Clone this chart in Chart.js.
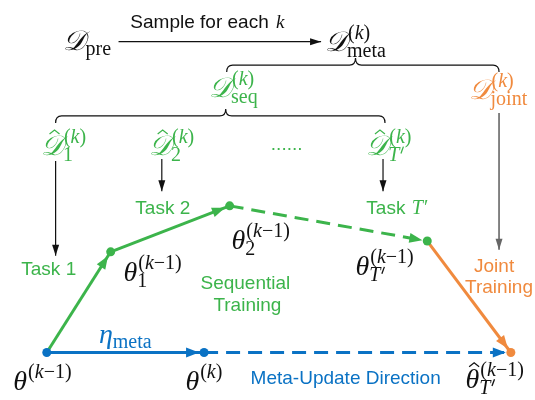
<!DOCTYPE html>
<html>
<head>
<meta charset="utf-8">
<script src="https://cdn.jsdelivr.net/npm/chart.js@4.4.1/dist/chart.umd.min.js"></script>
<style>
  html, body { margin: 0; padding: 0; background: #fff; }
  #wrap { width: 535px; height: 400px; }
</style>
</head>
<body>
<div id="wrap"><canvas id="chart" width="535" height="400"></canvas></div>
<script>
const GREEN = '#3cb44b';
const BLUE = '#0a72c4';
const ORANGE = '#f08a3e';
const BLACK = '#111';
const GRAY = '#666';

// parameter points of the diagram (x, y in diagram units, y down)
const nodeNames = ['theta0', 'theta1', 'theta2', 'thetaT', 'thetaK', 'thetaHat'];
const nodeX = [43, 108, 229, 430, 203, 515];
const nodeY = [356, 253, 206, 242, 356, 356];
const nodeColors = [BLUE, GREEN, GREEN, GREEN, BLUE, ORANGE];

// update steps: from, to, colour, dashed
const edges = [
  ['theta0', 'theta1', GREEN, false],
  ['theta1', 'theta2', GREEN, false],
  ['theta2', 'thetaT', GREEN, true],
  ['thetaT', 'thetaHat', ORANGE, false],
  ['theta0', 'thetaK', BLUE, false],
  ['thetaK', 'thetaHat', BLUE, true]
];

// thin data-flow arrows: x1, y1, x2, y2, colour
const flowArrows = [
  [116, 38, 322, 38, BLACK],
  [52, 160, 52, 257, BLACK],
  [160, 158, 160, 191, BLACK],
  [385, 158, 385, 191, BLACK],
  [503, 111, 503, 251, GRAY]
];

// braces: x1, x2, y, tip x
const braces = [
  [226, 503, 62, 357],
  [52, 387, 114, 225]
];

// plain labels: text, x, y (centre), colour
const textLabels = [
  ['Task 1', 45, 271, GREEN],
  ['Task 2', 161, 209, GREEN],
  ['Sequential', 245, 286, GREEN],
  ['Training', 247, 308, GREEN],
  ['Joint', 498, 268, ORANGE],
  ['Training', 503, 290, ORANGE],
  ['Meta-Update Direction', 347, 383, BLUE],
  ['......', 287, 143, GREEN]
];

// maths labels: base, hat, superscript, subscript, sub upright, x, baseline, colour
const mathLabels = [
  ['\u{1D49F}', false, '', 'pre', true, 60, 47, BLACK],
  ['\u{1D49F}', false, '(k)', 'meta', true, 326, 48, BLACK],
  ['\u{1D49F}', false, '(k)', 'seq', true, 208, 95, GREEN],
  ['\u{1D49F}', false, '(k)', 'joint', true, 472, 97, ORANGE],
  ['\u{1D49F}', true, '(k)', '1', true, 37, 154, GREEN],
  ['\u{1D49F}', true, '(k)', '2', true, 147, 154, GREEN],
  ['\u{1D49F}', true, '(k)', 'T\u2032', false, 368, 154, GREEN],
  ['\u03B8', false, '(k\u22121)', '1', true, 121, 283, BLACK],
  ['\u03B8', false, '(k\u22121)', '2', true, 231, 250, BLACK],
  ['\u03B8', false, '(k\u22121)', 'T\u2032', false, 357, 277, BLACK],
  ['\u03B8', false, '(k\u22121)', '', true, 9, 394, BLACK],
  ['\u03B8', false, '(k)', '', true, 184, 394, BLACK],
  ['\u03B8', true, '(k\u22121)', 'T\u2032', false, 469, 392, BLACK],
  ['\u03B7', false, '', 'meta', true, 96, 346, BLUE]
];

const SANS = '"Liberation Sans", Arial, sans-serif';
const SERIF = '"Liberation Serif", "DejaVu Serif", serif';

function nodePoint(name) {
  const i = nodeNames.indexOf(name);
  return { x: nodeX[i], y: nodeY[i] };
}

function arrowHead(ctx, x1, y1, x2, y2, len, half, color) {
  const a = Math.atan2(y2 - y1, x2 - x1);
  ctx.save();
  ctx.fillStyle = color;
  ctx.beginPath();
  ctx.moveTo(x2, y2);
  ctx.lineTo(x2 - len * Math.cos(a) + half * Math.sin(a), y2 - len * Math.sin(a) - half * Math.cos(a));
  ctx.lineTo(x2 - len * Math.cos(a) - half * Math.sin(a), y2 - len * Math.sin(a) + half * Math.cos(a));
  ctx.closePath();
  ctx.fill();
  ctx.restore();
}

// draw a run of script text, letters italic unless upright
function drawRuns(ctx, str, x, y, size, upright) {
  for (const ch of str) {
    if (ch === '\u2032') {
      // prime: a short slanted stroke
      ctx.save();
      ctx.lineWidth = 1.3;
      ctx.beginPath();
      ctx.moveTo(x + 4, y - size * 0.72);
      ctx.lineTo(x + 1.5, y - size * 0.38);
      ctx.stroke();
      ctx.restore();
      x += 5;
      continue;
    }
    const italic = !upright && /[A-Za-z]/.test(ch);
    ctx.font = `${italic ? 'italic ' : ''}${size}px ${SERIF}`;
    ctx.fillText(ch, x, y);
    x += ctx.measureText(ch).width;
  }
  return x;
}

function drawMath(ctx, lab) {
  const [base, hat, sup, sub, subUpright, x, y, color] = lab;
  ctx.save();
  ctx.fillStyle = color;
  ctx.strokeStyle = color;
  ctx.textAlign = 'left';
  ctx.textBaseline = 'alphabetic';
  ctx.font = `italic 28px ${SERIF}`;
  ctx.fillText(base, x, y);
  const w = ctx.measureText(base).width;
  if (hat) {
    const cx = x + w * 0.62;
    const top = y - 24;
    ctx.lineWidth = 1.2;
    ctx.beginPath();
    ctx.moveTo(cx - 5, top + 3);
    ctx.lineTo(cx, top - 1);
    ctx.lineTo(cx + 5, top + 3);
    ctx.stroke();
  }
  const sx = x + w + 1;
  if (sup) drawRuns(ctx, sup, sx, y - 12, 20, false);
  if (sub) drawRuns(ctx, sub, sx - 1, y + (sup ? 6 : 5), 20, subUpright);
  ctx.restore();
}

function drawBrace(ctx, x1, x2, y, xm) {
  const h = 7, r = 6;
  ctx.beginPath();
  ctx.moveTo(x1, y + h);
  ctx.quadraticCurveTo(x1, y, x1 + r, y);
  ctx.lineTo(xm - r, y);
  ctx.quadraticCurveTo(xm, y, xm, y - h);
  ctx.quadraticCurveTo(xm, y, xm + r, y);
  ctx.lineTo(x2 - r, y);
  ctx.quadraticCurveTo(x2, y, x2, y + h);
  ctx.stroke();
}

const diagramPlugin = {
  id: 'diagram',
  afterDatasetsDraw(chart) {
    const { ctx, scales: { x, y } } = chart;
    // arrowheads on update steps, stopping at the dot edge
    edges.forEach(([from, to, color]) => {
      const a = nodePoint(from), b = nodePoint(to);
      const x1 = x.getPixelForValue(a.x), y1 = y.getPixelForValue(a.y);
      const x2 = x.getPixelForValue(b.x), y2 = y.getPixelForValue(b.y);
      const d = Math.hypot(x2 - x1, y2 - y1);
      const tx = x2 - (x2 - x1) / d * 5, ty = y2 - (y2 - y1) / d * 5;
      arrowHead(ctx, x1, y1, tx, ty, 13, 5, color);
    });
    flowArrows.forEach(([ax, ay, bx, by, color]) => {
      arrowHead(ctx, x.getPixelForValue(ax), y.getPixelForValue(ay),
        x.getPixelForValue(bx), y.getPixelForValue(by), 11, 3.5, color);
    });
  },
  afterDraw(chart) {
    const { ctx, scales: { x, y } } = chart;
    ctx.save();
    ctx.strokeStyle = BLACK;
    ctx.lineWidth = 1.2;
    braces.forEach(([x1, x2, yy, xm]) => {
      drawBrace(ctx, x.getPixelForValue(x1), x.getPixelForValue(x2), y.getPixelForValue(yy), x.getPixelForValue(xm));
    });

    ctx.textAlign = 'center';
    ctx.textBaseline = 'middle';
    textLabels.forEach(([t, tx, ty, color]) => {
      ctx.fillStyle = color;
      ctx.font = `19px ${SANS}`;
      ctx.fillText(t, x.getPixelForValue(tx), y.getPixelForValue(ty));
    });

    // "Sample for each k" and "Task T'"
    ctx.textAlign = 'left';
    ctx.fillStyle = BLACK;
    ctx.font = `19px ${SANS}`;
    ctx.fillText('Sample for each ', x.getPixelForValue(128), y.getPixelForValue(19));
    let w = ctx.measureText('Sample for each ').width;
    ctx.font = `italic 19px ${SERIF}`;
    ctx.fillText('k', x.getPixelForValue(128) + w + 2, y.getPixelForValue(19));

    ctx.fillStyle = GREEN;
    ctx.font = `19px ${SANS}`;
    ctx.fillText('Task ', x.getPixelForValue(368), y.getPixelForValue(209));
    w = ctx.measureText('Task ').width;
    ctx.font = `italic 20px ${SERIF}`;
    ctx.fillText('T\u2032', x.getPixelForValue(368) + w + 1, y.getPixelForValue(209));
    ctx.restore();

    mathLabels.forEach((lab) => {
      const l = lab.slice();
      l[5] = x.getPixelForValue(lab[5]);
      l[6] = y.getPixelForValue(lab[6]);
      drawMath(ctx, l);
    });
  }
};

const datasets = edges.map(([from, to, color, dashed]) => ({
  data: [nodePoint(from), nodePoint(to)],
  showLine: true,
  borderColor: color,
  borderWidth: 3,
  borderDash: dashed ? [14, 8] : [],
  pointRadius: 0,
  order: 2
}));

flowArrows.forEach(([ax, ay, bx, by, color]) => {
  datasets.push({
    data: [{ x: ax, y: ay }, { x: bx, y: by }],
    showLine: true,
    borderColor: color,
    borderWidth: color === GRAY ? 1.6 : 1.2,
    pointRadius: 0,
    order: 2
  });
});

datasets.push({
  data: nodeNames.map((n, i) => ({ x: nodeX[i], y: nodeY[i] })),
  showLine: false,
  pointRadius: 4.5,
  pointBackgroundColor: nodeColors,
  pointBorderWidth: 0,
  order: 0
});

new Chart(document.querySelector('#chart'), {
  type: 'scatter',
  data: { datasets },
  options: {
    responsive: false,
    animation: false,
    layout: { padding: 0 },
    plugins: { legend: { display: false }, tooltip: { enabled: false } },
    scales: {
      x: { type: 'linear', min: 0, max: 535, display: false },
      y: { type: 'linear', min: 0, max: 400, reverse: true, display: false }
    }
  },
  plugins: [diagramPlugin]
});
</script>
</body>
</html>
